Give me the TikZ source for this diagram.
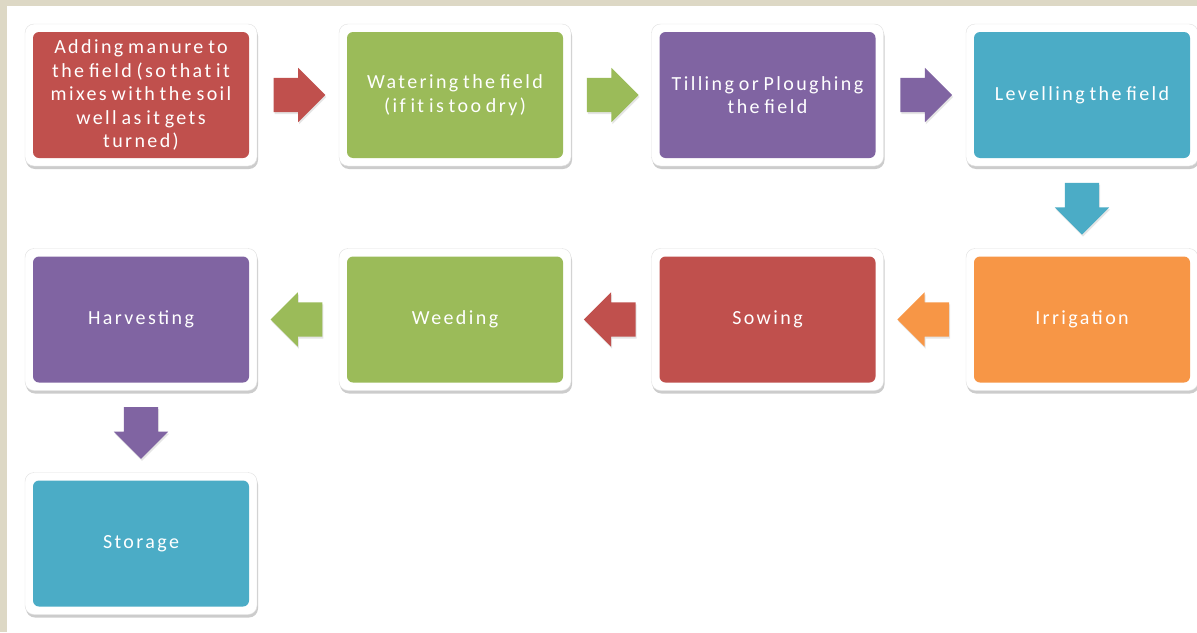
\documentclass[tikz,border=0pt]{standalone}
\usepackage{fontspec}
\setmainfont{Carlito}
\newfontfamily\stagefont[LetterSpace=12,WordSpace=0.7]{Carlito}
\usetikzlibrary{shapes.arrows,shadows,calc}

\definecolor{cropred}{HTML}{C0504D}
\definecolor{cropgreen}{HTML}{9BBB59}
\definecolor{croppurple}{HTML}{8064A2}
\definecolor{cropaqua}{HTML}{4BACC6}
\definecolor{croporange}{HTML}{F79646}
\definecolor{pagebeige}{HTML}{DDD8C5}

\tikzset{
	stage/.style={rectangle, rounded corners=9pt, fill=white, draw=black!12,
		minimum width=232pt, minimum height=142pt, text=white, align=center,
		font=\stagefont\fontsize{20}{23.5}\selectfont,
		drop shadow={shadow xshift=1pt, shadow yshift=-3pt, opacity=0.4},
		path picture={\fill[#1, rounded corners=6pt]
			([shift={(8pt,8pt)}]path picture bounding box.south west) rectangle
			([shift={(-8pt,-8pt)}]path picture bounding box.north east);}},
	blockarrow/.style={single arrow, fill=#1, draw=none, inner sep=17pt,
		minimum height=49pt, minimum width=54pt, single arrow head extend=10pt,
		anchor=tail,
		drop shadow={shadow xshift=1pt, shadow yshift=-2pt, opacity=0.2}}
}

\begin{document}
\begin{tikzpicture}[x=1pt,y=-1pt]

	\fill[pagebeige] (0,0) rectangle (1197,632);
	\fill[white] (7,6) rectangle (1197,632);
	\useasboundingbox (0,0) rectangle (1197,632);

	\node[stage=cropred]    (manure)     at (141, 95)    {Adding manure to\\the field (so that it\\mixes with the soil\\well as it gets\\turned)};
	\node[stage=cropgreen]  (watering)   at (455, 95)    {Watering the field\\(if it is too dry)};
	\node[stage=croppurple] (tilling)    at (767.5, 95)  {Tilling or Ploughing\\the field};
	\node[stage=cropaqua]   (levelling)  at (1082, 95)   {Levelling the field};
	\node[stage=croporange] (irrigation) at (1082, 319.5) {Irrigation};
	\node[stage=cropred]    (sowing)     at (767.5, 319.5) {Sowing};
	\node[stage=cropgreen]  (weeding)    at (455, 319.5) {Weeding};
	\node[stage=croppurple] (harvesting) at (141, 319.5) {Harvesting};
	\node[stage=cropaqua]   (storage)    at (141, 543.5) {Storage};

	% arrows are placed by their tail, half a length back from the gap's middle
	\node[blockarrow=cropred] (a1) at ($(manure.east)!0.5!(watering.west)+(-24.5,0)$) {};
	\node[blockarrow=cropgreen] (a2) at ($(watering.east)!0.5!(tilling.west)+(-24.5,0)$) {};
	\node[blockarrow=croppurple] (a3) at ($(tilling.east)!0.5!(levelling.west)+(-24.5,0)$) {};
	\node[blockarrow=cropaqua, shape border rotate=270] (a4) at ($(levelling.south)!0.5!(irrigation.north)+(0,-24.5)$) {};
	\node[blockarrow=croporange, shape border rotate=180] (a5) at ($(irrigation.west)!0.5!(sowing.east)+(24.5,0)$) {};
	\node[blockarrow=cropred, shape border rotate=180] (a6) at ($(sowing.west)!0.5!(weeding.east)+(24.5,0)$) {};
	\node[blockarrow=cropgreen, shape border rotate=180] (a7) at ($(weeding.west)!0.5!(harvesting.east)+(24.5,0)$) {};
	\node[blockarrow=croppurple, shape border rotate=270] (a8) at ($(harvesting.south)!0.5!(storage.north)+(0,-24.5)$) {};

\end{tikzpicture}
\end{document}
